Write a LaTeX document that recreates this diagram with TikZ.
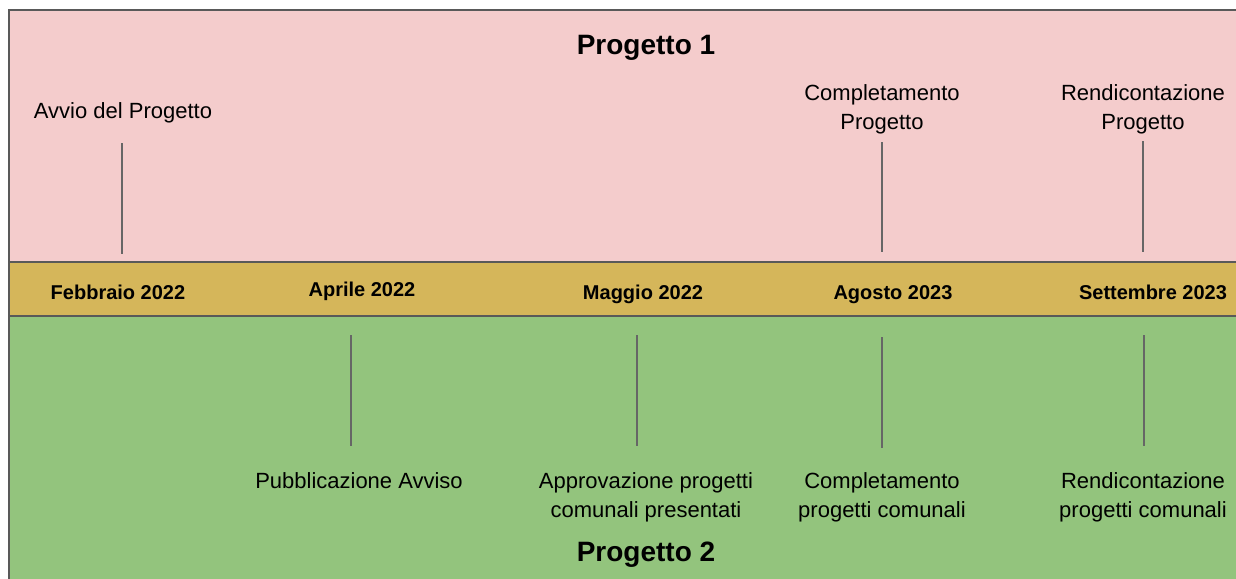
\documentclass[tikz,border=0pt]{standalone}
\usepackage{fontspec}
\setmainfont{Liberation Sans}

\definecolor{rosa}{HTML}{F4CCCC}
\definecolor{oro}{HTML}{D5B65A}
\definecolor{verde}{HTML}{93C47D}
\definecolor{bordo}{HTML}{595959}
\definecolor{tacca}{HTML}{666666}

\tikzset{
    titolo/.style={font=\fontsize{28}{32}\selectfont\bfseries},
    data/.style={font=\fontsize{20}{24}\selectfont\bfseries, text height=14pt, text depth=4pt},
    evento/.style={font=\fontsize{22}{29}\selectfont, align=center, inner sep=0pt},
    tick/.style={draw=tacca, line width=2pt}
}

\begin{document}
\begin{tikzpicture}[x=1pt,y=-1pt]
    \useasboundingbox (0,0) rectangle (1236,578);
    \clip (0,0) rectangle (1236,578);

    % fasce
    \fill [rosa]  (9,10)   rectangle (1250,262);
    \fill [oro]   (9,262)  rectangle (1250,316);
    \fill [verde] (9,316)  rectangle (1250,590);
    \draw [bordo, line width=2pt] (9,590) -- (9,10) -- (1250,10);
    \draw [bordo, line width=2pt] (9,262) -- (1250,262);
    \draw [bordo, line width=2pt] (9,316) -- (1250,316);

    \node [titolo] (p1) at (646,48)  {Progetto 1};
    \node [titolo] (p2) at (646,555) {Progetto 2};

    % date
    \node [data] (feb) at (118,294)  {Febbraio 2022};
    \node [data] (apr) at (362,291)  {Aprile 2022};
    \node [data] (mag) at (643,294)  {Maggio 2022};
    \node [data] (ago) at (893,294)  {Agosto 2023};
    \node [data] (set) at (1153,294) {Settembre 2023};

    % eventi progetto 1
    \node [evento] (avvio)  at (123,113)  {Avvio del Progetto};
    \node [evento] (compl1) at (882,109)  {Completamento\\Progetto};
    \node [evento] (rend1)  at (1143,109) {Rendicontazione\\Progetto};

    % eventi progetto 2
    \node [evento, anchor=north] (pubb)   at (359,472)  {Pubblicazione Avviso};
    \node [evento, anchor=north] (appr)   at (646,472)  {Approvazione progetti\\comunali presentati};
    \node [evento, anchor=north] (compl2) at (882,472)  {Completamento\\progetti comunali};
    \node [evento, anchor=north] (rend2)  at (1143,472) {Rendicontazione\\progetti comunali};

    \foreach \n/\x/\a/\b in {1/122/143/254, 2/882/142/252, 3/1143/141/252,
                              4/351/335/446, 5/637/335/446, 6/882/337/448, 7/1144/335/446}{%
        \coordinate (t\n a) at (\x,\a);
        \coordinate (t\n b) at (\x,\b);
        \draw [tick] (t\n a) -- (t\n b);}
\end{tikzpicture}
\end{document}
